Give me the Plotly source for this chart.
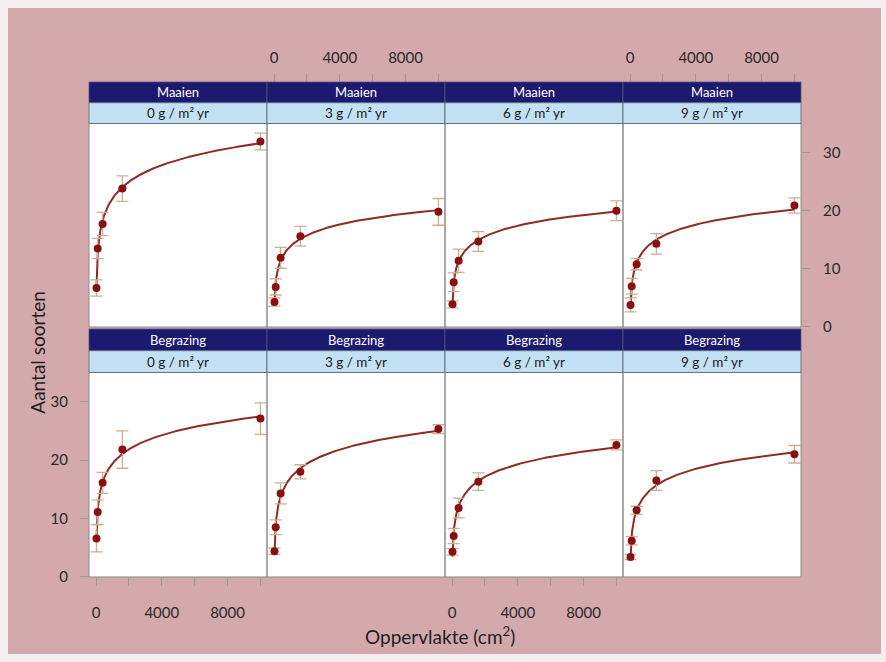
import numpy as np
import plotly.graph_objects as go

# ---- data -------------------------------------------------------------
area = [25, 100, 400, 1600, 10000]          # plot size, cm²
x_tickvals = [0, 4000, 8000]
x_ticktext = ["0", "4000", "8000"]
x_minor_step = 2000
y_tickvals = [0, 10, 20, 30]
y_ticktext = ["0", "10", "20", "30"]

treatments = ["Maaien", "Begrazing"]
deposition = ["0 g / m² yr", "3 g / m² yr", "6 g / m² yr", "9 g / m² yr"]

maaien_0 = [6.7, 13.5, 17.7, 23.8, 31.9]
maaien_0_err = [1.4, 1.75, 2.0, 2.2, 1.45]
maaien_3 = [4.3, 6.9, 11.9, 15.6, 19.8]
maaien_3_err = [0.7, 1.4, 1.8, 1.7, 2.3]
maaien_6 = [3.9, 7.7, 11.4, 14.7, 20.0]
maaien_6_err = [0.6, 1.6, 2.0, 1.7, 1.7]
maaien_9 = [3.8, 7.0, 10.8, 14.3, 20.9]
maaien_9_err = [1.2, 1.35, 1.0, 1.75, 1.3]

begrazing_0 = [6.6, 11.1, 16.1, 21.8, 27.1]
begrazing_0_err = [2.3, 2.1, 1.8, 3.2, 2.7]
begrazing_3 = [4.4, 8.5, 14.3, 18.0, 25.3]
begrazing_3_err = [0.55, 1.25, 1.8, 1.2, 0.75]
begrazing_6 = [4.3, 7.0, 11.8, 16.3, 22.6]
begrazing_6_err = [0.55, 1.3, 1.7, 1.5, 0.85]
begrazing_9 = [3.4, 6.2, 11.4, 16.5, 21.0]
begrazing_9_err = [0.45, 0.7, 0.7, 1.7, 1.5]

species = [[maaien_0, maaien_3, maaien_6, maaien_9],
           [begrazing_0, begrazing_3, begrazing_6, begrazing_9]]
species_err = [[maaien_0_err, maaien_3_err, maaien_6_err, maaien_9_err],
               [begrazing_0_err, begrazing_3_err, begrazing_6_err, begrazing_9_err]]

# ---- layout geometry (pixels) ----------------------------------------
W, H = 886, 662
col_px = [(89, 267), (267, 445), (445, 623), (623, 801)]
# (dark strip top, light strip top, panel top, panel bottom)
row_px = [(83, 104, 125, 331), (333, 355, 377, 584)]

PINK = "#d4a9ac"
NAVY = "#1c1a70"
LIGHT = "#c2e1f4"
CURVE = "#8d2c22"
POINT = "#8a0f10"
ERR = "#cfad92"
TICK = "#9a9a9a"
FONT = "Lato"


def fx(px):
    return px / W


def fy(px):
    return 1 - px / H


fig = go.Figure()
layout = dict(
    width=W, height=H,
    margin=dict(l=0, r=0, t=0, b=0),
    paper_bgcolor="#f4eeee",
    plot_bgcolor="white",
    showlegend=False,
    font=dict(family=FONT, color="#2a2a2a"),
)
shapes = [dict(type="rect", xref="paper", yref="paper",
               x0=fx(8), x1=fx(881), y0=0, y1=fy(8),
               fillcolor=PINK, line_width=0, layer="below")]
annotations = []

grid = np.linspace(area[0], area[-1], 600)

k = 0
for r in range(2):
    dark_top, light_top, p_top, p_bot = row_px[r]
    for c in range(4):
        k += 1
        xa = "x" if k == 1 else f"x{k}"
        ya = "y" if k == 1 else f"y{k}"
        xl, xr = col_px[c]

        xaxis = dict(domain=[fx(xl), fx(xr)], range=[-430, 10400],
                     tickvals=x_tickvals, ticktext=x_ticktext,
                     showgrid=False, zeroline=False, showline=False,
                     anchor=ya, ticks="", showticklabels=False,
                     tickfont=dict(size=15, family=FONT, color="#2a2a2a"),
                     tickcolor=TICK, ticklen=8, tickwidth=1)
        minor = dict(ticks="outside", tick0=0, dtick=x_minor_step,
                     ticklen=8, tickcolor=TICK, tickwidth=1, showgrid=False)
        if r == 0 and c in (1, 3):
            xaxis.update(side="top", anchor="free", position=fy(dark_top),
                         ticks="outside", showticklabels=True,
                         ticklabelstandoff=5, minor=minor)
        if r == 1 and c in (0, 2):
            xaxis.update(side="bottom", ticks="outside", showticklabels=True,
                         ticklabelstandoff=14, minor=minor)

        yaxis = dict(domain=[fy(p_bot), fy(p_top)], range=[0, 35],
                     tickvals=y_tickvals, ticktext=y_ticktext,
                     showgrid=False, zeroline=False, showline=False,
                     anchor=xa, ticks="", showticklabels=False,
                     tickfont=dict(size=15, family=FONT, color="#2a2a2a"),
                     tickcolor=TICK, ticklen=8, tickwidth=1)
        if r == 1 and c == 0:
            yaxis.update(side="left", ticks="outside", showticklabels=True,
                         ticklabelstandoff=9)
        if r == 0 and c == 3:
            yaxis.update(side="right", ticks="outside", showticklabels=True,
                         ticklabelstandoff=10)

        layout["xaxis" if k == 1 else f"xaxis{k}"] = xaxis
        layout["yaxis" if k == 1 else f"yaxis{k}"] = yaxis

        y = np.array(species[r][c])
        e = species_err[r][c]

        # logarithmic species-area fit S = a + b ln(A)
        b, a = np.polyfit(np.log(area), y, 1)
        fig.add_trace(go.Scatter(x=grid, y=a + b * np.log(grid), mode="lines",
                                 line=dict(color=CURVE, width=2),
                                 xaxis=xa, yaxis=ya, hoverinfo="skip"))
        fig.add_trace(go.Scatter(x=area, y=y, mode="markers",
                                 marker=dict(color=POINT, size=8),
                                 error_y=dict(type="data", array=e, color=ERR,
                                              thickness=1.3, width=6),
                                 xaxis=xa, yaxis=ya))

        # white panel background
        shapes.append(dict(type="rect", xref="paper", yref="paper",
                           x0=fx(xl), x1=fx(xr), y0=fy(p_bot), y1=fy(p_top),
                           fillcolor="white", line_width=0, layer="below"))
        # panel frame
        shapes.append(dict(type="rect", xref="paper", yref="paper",
                           x0=fx(xl), x1=fx(xr), y0=fy(p_bot), y1=fy(p_top),
                           line=dict(color="#8c8c8c", width=1),
                           fillcolor="rgba(0,0,0,0)", layer="above"))
        # strips
        shapes.append(dict(type="rect", xref="paper", yref="paper",
                           x0=fx(xl), x1=fx(xr), y0=fy(light_top), y1=fy(dark_top),
                           fillcolor=NAVY, line=dict(color="#555577", width=0.8)))
        shapes.append(dict(type="rect", xref="paper", yref="paper",
                           x0=fx(xl), x1=fx(xr), y0=fy(p_top), y1=fy(light_top),
                           fillcolor=LIGHT, line=dict(color="#556070", width=0.8)))
        annotations.append(dict(text=treatments[r], xref="paper", yref="paper",
                                x=fx((xl + xr) / 2), y=fy((dark_top + light_top) / 2),
                                showarrow=False, xanchor="center", yanchor="middle",
                                font=dict(size=13, color="white", family=FONT)))
        annotations.append(dict(text=deposition[c], xref="paper", yref="paper",
                                x=fx((xl + xr) / 2), y=fy((light_top + p_top) / 2),
                                showarrow=False, xanchor="center", yanchor="middle",
                                font=dict(size=13.5, color="#1a1a1a", family=FONT)))

annotations.append(dict(text="Aantal soorten", xref="paper", yref="paper",
                        x=fx(38), y=fy(357), textangle=-90, showarrow=False,
                        xanchor="center", yanchor="middle",
                        font=dict(size=19, color="#1e1e1e", family=FONT)))
annotations.append(dict(text="Oppervlakte (cm<sup>2</sup>)", xref="paper", yref="paper",
                        x=fx(440), y=fy(643), showarrow=False,
                        xanchor="center", yanchor="middle",
                        font=dict(size=19, color="#1e1e1e", family=FONT)))

layout["shapes"] = shapes
layout["annotations"] = annotations
fig.update_layout(**layout)
fig.write_html("out.html")
